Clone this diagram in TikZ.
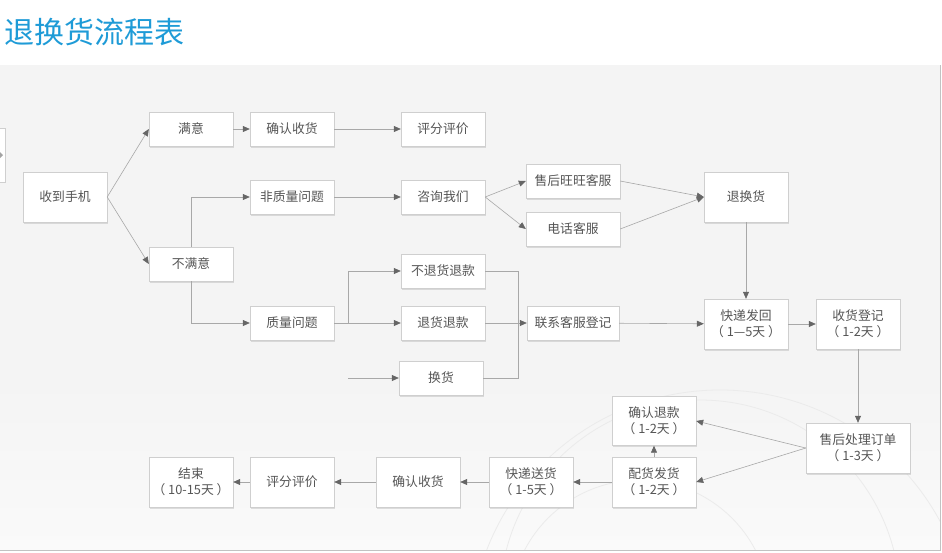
\documentclass[tikz,border=0pt]{standalone}
\usepackage{fontspec}
\setmainfont{Noto Sans CJK SC}
\usetikzlibrary{arrows.meta,shadows}
\definecolor{bggray}{HTML}{F4F4F4}
\definecolor{bglight}{HTML}{FAFAFA}
\definecolor{boxline}{HTML}{CFCFCF}
\definecolor{txtgray}{HTML}{555555}
\definecolor{linegray}{HTML}{A8A8A8}
\definecolor{tipgray}{HTML}{666666}
\definecolor{titleblue}{HTML}{1E9BD7}
\definecolor{arcgray}{HTML}{EBEBEB}
\tikzset{
  fbox/.style={draw=boxline, fill=white, text=txtgray, font=\fontsize{12.8}{16}\selectfont,
    minimum width=84pt, minimum height=34pt, align=center, inner sep=2pt,
    drop shadow={shadow xshift=0.6pt, shadow yshift=-1.6pt, fill=black!35, opacity=0.35}},
  tall/.style={minimum height=50pt},
  conn/.style={draw=linegray, line width=0.6pt},
  arr/.style={conn, -{Triangle[length=7pt,width=6pt,fill=tipgray,color=tipgray]}},
}
\begin{document}
\begin{tikzpicture}[x=1pt,y=-1pt]
\useasboundingbox (0,0) rectangle (942,552);
\fill[white] (0,0) rectangle (942,552);
\fill[bggray] (0,65) rectangle (940,380);
\shade[top color=bggray, bottom color=bglight] (0,379.5) rectangle (940,550);
\begin{scope}
\clip (0,65) rectangle (940,550);
\draw[arcgray, line width=0.8pt] (700,600) circle (200);
\draw[arcgray, line width=0.8pt] (720,640) circle (250);
\draw[arcgray, line width=0.8pt] (640,610) circle (130);
\end{scope}
\draw[linegray!70, line width=0.8pt] (0,550) -- (940,550) -- (940,65);
% partial box at left edge
\draw[boxline, fill=white] (-10,128) rectangle (5,182);
\fill[tipgray!60] (0,152) -- (3,155) -- (0,158) -- cycle;
% title
\node[anchor=west, text=titleblue, font=\fontsize{30}{34}\selectfont, inner sep=0pt] (title) at (4,32) {退换货流程表};
% nodes
\node[fbox, tall] (hand) at (65,197) {收到手机};
\node[fbox] (my) at (191,129) {满意};
\node[fbox] (qr1) at (292,129) {确认收货};
\node[fbox] (pf1) at (443,129) {评分评价};
\node[fbox] (fz) at (292,197) {非质量问题};
\node[fbox] (bmy) at (191,264) {不满意};
\node[fbox] (zx) at (443,197) {咨询我们};
\node[fbox, minimum width=94pt] (ww) at (573,181) {售后旺旺客服};
\node[fbox, minimum width=94pt] (dh) at (573,229) {电话客服};
\node[fbox] (bt) at (443,271) {不退货退款};
\node[fbox] (tt) at (443,323) {退货退款};
\node[fbox] (hh) at (441,378) {换货};
\node[fbox] (zl) at (292,323) {质量问题};
\node[fbox, minimum width=92pt] (lx) at (573,323) {联系客服登记};
\node[fbox, tall] (thh) at (746,197) {退换货};
\node[fbox, tall] (kdh) at (746,324) {快递发回\\（ 1—5天 ）};
\node[fbox, tall] (shdj) at (858,324) {收货登记\\（ 1-2天 ）};
\node[fbox, tall, minimum width=104pt] (cl) at (858,448) {售后处理订单\\（ 1-3天 ）};
\node[fbox, minimum height=49pt] (qrtk) at (654,421) {确认退款\\（ 1-2天 ）};
\node[fbox, tall] (ph) at (654,482) {配货发货\\（ 1-2天 ）};
\node[fbox, tall] (ks) at (531,482) {快递送货\\（ 1-5天 ）};
\node[fbox, tall] (qr2) at (418,482) {确认收货};
\node[fbox, tall] (pf2) at (292,482) {评分评价};
\node[fbox, tall] (end) at (191,482) {结束\\（ 10-15天 ）};
% connectors
\draw[arr] (hand.east) -- (my.west);
\draw[arr] (hand.east) -- (bmy.west);
\draw[arr] (my) -- (qr1);
\draw[arr] (qr1) -- (pf1);
\draw[arr] (bmy.north) |- (fz.west);
\draw[arr] (bmy.south) |- (zl.west);
\draw[arr] (fz) -- (zx);
\draw[arr] (zx.east) -- (ww.west);
\draw[arr] (zx.east) -- (dh.west);
\draw[arr] (ww.east) -- (thh.west);
\draw[arr] (dh.east) -- (thh.west);
\coordinate (j1) at (348,323);
\coordinate (hs) at (348,378);
\coordinate (j2) at (518,323);
\draw[arr] (zl.east) -- (tt.west);
\draw[arr] (j1) |- (bt.west);
\draw[arr] (hs) -- (hh.west);
\draw[conn] (bt.east) -| (j2);
\draw[conn] (hh.east) -| (j2);
\draw[arr] (tt.east) -- (lx.west);
\draw[arr] (lx) -- (kdh);
\draw[arr] (thh) -- (kdh);
\draw[arr] (kdh) -- (shdj);
\draw[arr] (shdj) -- (cl);
\draw[arr] (cl.west) -- (qrtk.east);
\draw[arr] (cl.west) -- (ph.east);
\draw[arr] (ph) -- (qrtk);
\draw[arr] (ph) -- (ks);
\draw[arr] (ks) -- (qr2);
\draw[arr] (qr2) -- (pf2);
\draw[arr] (pf2) -- (end);
\end{tikzpicture}
\end{document}
